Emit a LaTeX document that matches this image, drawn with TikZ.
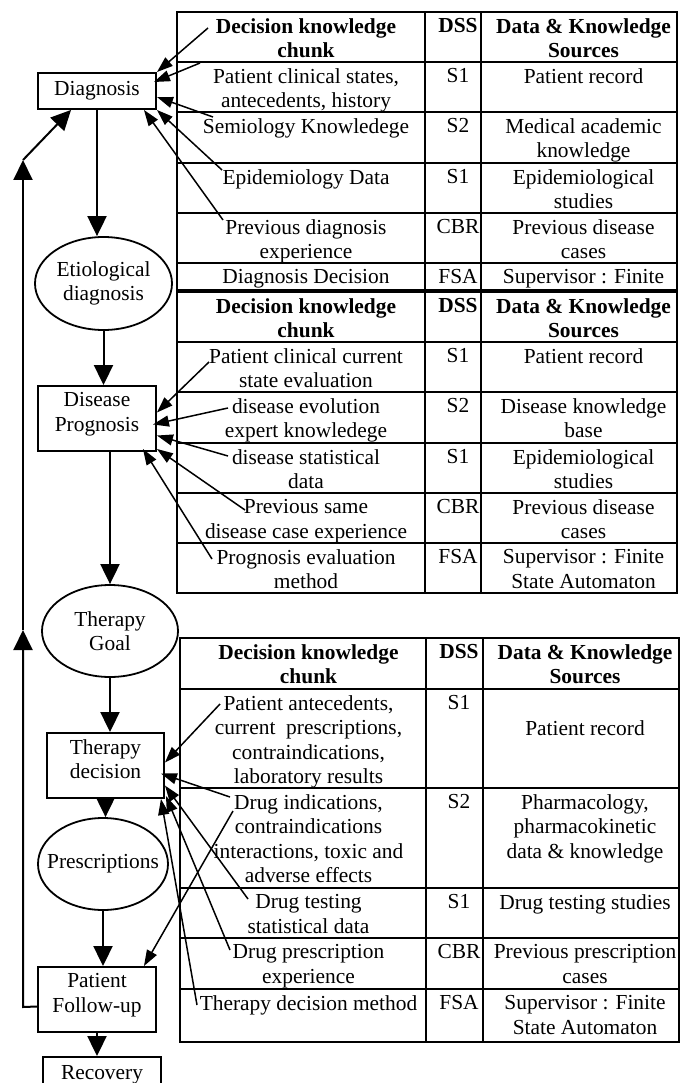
\documentclass[tikz,border=0pt]{standalone}
\usepackage{fontspec}
\setmainfont{Liberation Serif}
\usetikzlibrary{arrows.meta,shapes.geometric,calc}

\begin{document}
\begin{tikzpicture}[x=1pt,y=-1pt]
\tikzstyle{every node}+=[inner sep=0pt,font=\fontsize{21.4}{24.4}\selectfont]
\tikzset{
  cell/.style={anchor=north,align=center},
  headcell/.style={cell,font=\fontsize{21.4}{24.4}\selectfont\bfseries},
  taskbox/.style={draw,line width=1.9pt,minimum width=118pt,minimum height=65pt,align=center,text depth=13pt},
  shortbox/.style={draw,line width=1.9pt,minimum width=118pt,minimum height=36pt},
  taskell/.style={draw,ellipse,line width=1.8pt,minimum width=136pt,minimum height=92pt,align=center},
  flowarrow/.style={line width=2pt,-{Triangle[length=20pt,width=19pt]}},
  kbarrow/.style={line width=1.5pt,-{Triangle[length=16pt,width=11pt]}},
  tableframe/.style={line width=2.8pt},
  tablerule/.style={line width=1.8pt}
}
\useasboundingbox (0,0) rectangle (687,1083);
\clip (0,0) rectangle (687,1083);
% care process
\node [shortbox] (diag) at (97,91) {Diagnosis};
\node [taskell,minimum width=137pt,minimum height=93pt] (etio) at (103.5,283.5) {Etiological\\diagnosis};
\node [taskbox] (prog) at (97,418.5) {Disease\\Prognosis};
\node [taskell] (goal) at (110,631) {Therapy\\Goal};
\node [taskbox,minimum width=117pt] (tdec) at (105.5,765.5) {Therapy\\decision};
\node [taskell,minimum width=130pt,inner xsep=-10pt] (presc) at (103,864) {Prescriptions};
\node [taskbox] (fup) at (97,999.5) {Patient\\Follow-up};
\node [shortbox] (recov) at (102,1075) {Recovery};
\draw [flowarrow] (diag.south) -- (diag.south |- etio.north);
\draw [flowarrow] (etio.south) -- (etio.south |- prog.north);
\draw [flowarrow] (goal.north |- prog.south) -- (goal.north);
\draw [flowarrow] (goal.south) -- (goal.south |- tdec.north);
\draw [flowarrow] (tdec.south) -- (tdec.south |- presc.north);
\draw [flowarrow] (presc.south) -- (presc.south |- fup.north);
\draw [flowarrow] (fup.south) -- (fup.south |- recov.north);
% loop back
\coordinate (fbcorner) at (23,1007);
\coordinate (fbmid) at (23,630);
\coordinate (fbtop) at (23,160);
\draw [flowarrow] ($(fup.west)+(0,7)$) -- (fbcorner) -- (fbmid);
\draw [flowarrow] (fbmid) -- (fbtop);
\draw [flowarrow] (fbtop) -- ($(diag.south west)+(34,0)$);
% diagnosis table
\draw [tableframe] (177,12) rectangle (677,290);
\draw [tablerule] (177,62) -- (677,62);
\draw [tablerule] (177,112) -- (677,112);
\draw [tablerule] (177,163) -- (677,163);
\draw [tablerule] (177,213) -- (677,213);
\draw [tablerule] (177,263) -- (677,263);
\draw [tablerule] (425,12) -- (425,290);
\draw [tablerule] (481,12) -- (481,290);
\node [headcell] (dxh1) at (306,18.5) {Decision knowledge\\chunk};
\node [headcell] (dxh2) at (458,18.5) {DSS};
\node [headcell] (dxh3) at (583.5,18.5) {Data \& Knowledge\\Sources};
\node [cell] (dx1a) at (306,68.5) {Patient clinical states,\\antecedents, history};
\node [cell] (dx1b) at (458,68.5) {S1};
\node [cell] (dx1c) at (583.5,68.5) {Patient record};
\node [cell] (dx2a) at (306,118.5) {Semiology Knowledege};
\node [cell] (dx2b) at (458,118.5) {S2};
\node [cell] (dx2c) at (583.5,118.5) {Medical academic\\knowledge};
\node [cell] (dx3a) at (306,169.5) {Epidemiology Data};
\node [cell] (dx3b) at (458,169.5) {S1};
\node [cell] (dx3c) at (583.5,169.5) {Epidemiological\\studies};
\node [cell] (dx4a) at (306,219.5) {Previous diagnosis\\experience};
\node [cell] (dx4b) at (458,219.5) {CBR};
\node [cell] (dx4c) at (583.5,219.5) {Previous disease\\cases};
\node [cell] (dx5a) at (306,269.5) {Diagnosis Decision};
\node [cell] (dx5b) at (458,269.5) {FSA};
\node [cell] (dx5c) at (583.5,269.5) {Supervisor : Finite};
% prognosis table
\draw [tableframe] (177,292) rectangle (677,593);
\draw [tablerule] (177,342) -- (677,342);
\draw [tablerule] (177,392) -- (677,392);
\draw [tablerule] (177,443) -- (677,443);
\draw [tablerule] (177,493) -- (677,493);
\draw [tablerule] (177,543) -- (677,543);
\draw [tablerule] (425,292) -- (425,593);
\draw [tablerule] (481,292) -- (481,593);
\node [headcell] (pxh1) at (306,298.5) {Decision knowledge\\chunk};
\node [headcell] (pxh2) at (458,298.5) {DSS};
\node [headcell] (pxh3) at (583.5,298.5) {Data \& Knowledge\\Sources};
\node [cell] (px1a) at (306,348.5) {Patient clinical current\\state evaluation};
\node [cell] (px1b) at (458,348.5) {S1};
\node [cell] (px1c) at (583.5,348.5) {Patient record};
\node [cell] (px2a) at (306,398.5) {disease evolution\\expert knowledege};
\node [cell] (px2b) at (458,398.5) {S2};
\node [cell] (px2c) at (583.5,398.5) {Disease knowledge\\base};
\node [cell] (px3a) at (306,449.5) {disease statistical\\data};
\node [cell] (px3b) at (458,449.5) {S1};
\node [cell] (px3c) at (583.5,449.5) {Epidemiological\\studies};
\node [cell] (px4a) at (306,499.5) {Previous same\\disease case experience};
\node [cell] (px4b) at (458,499.5) {CBR};
\node [cell] (px4c) at (583.5,499.5) {Previous disease\\cases};
\node [cell] (px5a) at (306,549.5) {Prognosis evaluation\\method};
\node [cell] (px5b) at (458,549.5) {FSA};
\node [cell] (px5c) at (583.5,549.5) {Supervisor : Finite\\State Automaton};
% therapy table
\draw [tableframe] (180,638) rectangle (679,1042);
\draw [tablerule] (180,689) -- (679,689);
\draw [tablerule] (180,788) -- (679,788);
\draw [tablerule] (180,888) -- (679,888);
\draw [tablerule] (180,938) -- (679,938);
\draw [tablerule] (180,989) -- (679,989);
\draw [tablerule] (426,638) -- (426,1042);
\draw [tablerule] (483,638) -- (483,1042);
\node [headcell] (txh1) at (308.5,644.5) {Decision knowledge\\chunk};
\node [headcell] (txh2) at (459,644.5) {DSS};
\node [headcell] (txh3) at (585,644.5) {Data \& Knowledge\\Sources};
\node [cell] (tx1a) at (308.5,695.5) {Patient antecedents,\\current\ \ prescriptions,\\contraindications,\\laboratory results};
\node [cell] (tx1b) at (459,695.5) {S1};
\node [cell] (tx1c) at (585,720) {Patient record};
\node [cell] (tx2a) at (308.5,794.5) {Drug indications,\\contraindications\\interactions, toxic and\\adverse effects};
\node [cell] (tx2b) at (459,794.5) {S2};
\node [cell] (tx2c) at (585,794.5) {Pharmacology,\\pharmacokinetic\\data \& knowledge};
\node [cell] (tx3a) at (308.5,894.5) {Drug testing\\statistical data};
\node [cell] (tx3b) at (459,894.5) {S1};
\node [cell] (tx3c) at (585,894.5) {Drug testing studies};
\node [cell] (tx4a) at (308.5,944.5) {Drug prescription\\experience};
\node [cell] (tx4b) at (459,944.5) {CBR};
\node [cell] (tx4c) at (585,944.5) {Previous prescription\\cases};
\node [cell] (tx5a) at (308.5,995.5) {Therapy decision method};
\node [cell] (tx5b) at (459,995.5) {FSA};
\node [cell] (tx5c) at (585,995.5) {Supervisor : Finite\\State Automaton};
% knowledge links
\coordinate (dxa) at (208,28);
\coordinate (dxb) at (200,63);
\coordinate (dxc) at (213,117);
\coordinate (dxd) at (222,170);
\coordinate (dxe) at (223,220);
\draw [kbarrow] (dxa) -- (diag.north east);
\draw [kbarrow] (dxb) -- ($(diag.east)+(-3,-9)$);
\draw [kbarrow] (dxc) -- ($(diag.east)+(0,6)$);
\draw [kbarrow] (dxd) -- (diag.south east);
\draw [kbarrow] (dxe) -- ($(diag.south east)+(-13,0)$);
\coordinate (pxa) at (209,362);
\coordinate (pxb) at (228,408);
\coordinate (pxc) at (228,456);
\coordinate (pxd) at (245,510);
\coordinate (pxe) at (212,559);
\draw [kbarrow] (pxa) -- ($(prog.east)+(0,-6)$);
\draw [kbarrow] (pxb) -- ($(prog.east)+(-4,6)$);
\draw [kbarrow] (pxc) -- ($(prog.east)+(0,17)$);
\draw [kbarrow] (pxd) -- ($(prog.south east)+(0,-3)$);
\draw [kbarrow] (pxe) -- ($(prog.south east)+(-14,-3)$);
\coordinate (txa) at (220,704);
\coordinate (txb) at (230,797);
\coordinate (txc) at (248,899);
\coordinate (txd) at (230,950);
\coordinate (txe) at (197,1005);
\coordinate (txf) at (233,811);
\draw [kbarrow] (txa) -- ($(tdec.east)+(0,-3)$);
\draw [kbarrow] (txb) -- ($(tdec.east)+(-4,8)$);
\draw [kbarrow] (txc) -- ($(tdec.east)+(0,20)$);
\draw [kbarrow] (txd) -- ($(tdec.south east)+(1,-3)$);
\draw [kbarrow] (txe) -- ($(tdec.south east)+(-4,0)$);
\draw [kbarrow] (txf) -- ($(fup.north east)+(-13,0)$);
\end{tikzpicture}
\end{document}
